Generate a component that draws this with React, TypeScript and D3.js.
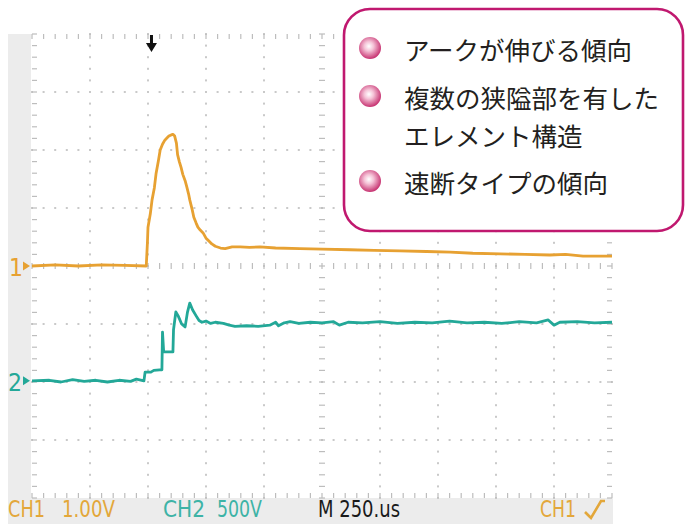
import React from "react";
import * as d3 from "d3";

// time in divisions (0..10), voltage in divisions (-4..4, 0 = centre)
const ch1Trace: [number, number][] = [
  [0, 0.0], [0.4, 0.02], [0.8, 0.0], [1.2, 0.02], [1.6, 0.01], [1.97, 0.0],
  [1.99, 0.4], [2.0, 0.67], [2.04, 0.9], [2.07, 1.14], [2.11, 1.35], [2.14, 1.6],
  [2.18, 1.82], [2.21, 2.0], [2.25, 2.1], [2.29, 2.17], [2.33, 2.21], [2.36, 2.24],
  [2.4, 2.26], [2.43, 2.27], [2.46, 2.24], [2.49, 2.12], [2.51, 1.92], [2.54, 1.8],
  [2.57, 1.7], [2.6, 1.58], [2.64, 1.47], [2.67, 1.36], [2.7, 1.24], [2.72, 1.14],
  [2.76, 0.98], [2.79, 0.84], [2.83, 0.74], [2.86, 0.67], [2.9, 0.62], [2.95, 0.57],
  [3.0, 0.48], [3.05, 0.43], [3.1, 0.38], [3.16, 0.34], [3.25, 0.31], [3.33, 0.3],
  [3.45, 0.33], [3.59, 0.33], [3.75, 0.32], [3.93, 0.33], [4.2, 0.31], [4.62, 0.3],
  [5.0, 0.29], [5.48, 0.28], [5.9, 0.27], [6.34, 0.26], [6.8, 0.25], [7.21, 0.24],
  [7.6, 0.22], [8.07, 0.21], [8.5, 0.2], [8.93, 0.19], [9.2, 0.2], [9.5, 0.17], [10, 0.17],
];

const ch2Trace: [number, number][] = [
  [0, -1.98], [0.3, -1.97], [0.5, -2.0], [0.7, -1.96], [0.9, -1.99], [1.1, -1.97],
  [1.3, -2.0], [1.5, -1.97], [1.7, -1.99], [1.8, -1.95], [1.93, -1.98],
  [1.95, -1.83], [2.05, -1.83], [2.1, -1.8], [2.2, -1.79], [2.24, -1.79],
  [2.25, -1.14], [2.27, -1.48], [2.43, -1.48], [2.44, -1.1], [2.48, -0.79],
  [2.52, -0.86], [2.58, -1.0], [2.64, -1.05], [2.68, -0.8], [2.72, -0.64],
  [2.77, -0.76], [2.83, -0.86], [2.88, -0.94], [2.93, -0.97], [3.0, -0.95],
  [3.08, -0.99], [3.16, -0.97], [3.3, -0.99], [3.4, -1.02], [3.5, -1.04],
  [3.7, -1.03], [3.9, -1.04], [4.1, -1.02], [4.2, -0.97], [4.25, -1.03],
  [4.35, -0.98], [4.45, -0.96], [4.6, -0.99], [4.8, -0.97], [5.0, -0.98],
  [5.2, -0.96], [5.3, -1.02], [5.45, -0.97], [5.7, -0.98], [6.0, -0.96],
  [6.3, -0.99], [6.6, -0.97], [6.9, -0.98], [7.2, -0.95], [7.5, -0.98],
  [7.8, -0.97], [8.1, -0.99], [8.4, -0.96], [8.7, -0.98], [8.9, -0.93],
  [9.0, -1.02], [9.1, -0.97], [9.4, -0.96], [9.7, -0.98], [10, -0.97],
];

const triggerTime = 2.06;
const ch1Level = 0;
const ch2Level = -1.98;

const statusItems = [
  { label: "CH1", value: "1.00V", color: "#E3A73A" },
  { label: "CH2", value: "500V", color: "#3DB3A6" },
];
const timebaseText = "M 250.us";
const triggerText = "CH1";

const legendLines = [
  { text: "アークが伸びる傾向", bullet: true },
  { text: "複数の狭隘部を有した", bullet: true },
  { text: "エレメント構造", bullet: false },
  { text: "速断タイプの傾向", bullet: true },
];

const ORANGE = "#E7A132";
const TEAL = "#23A898";

export default function App() {
  const W = 686, H = 524;
  const x = d3.scaleLinear().domain([0, 10]).range([32, 612]);
  const y = d3.scaleLinear().domain([-4, 4]).range([498, 34]);
  const line = d3.line<[number, number]>().x((d) => x(d[0])).y((d) => y(d[1]));

  const minorX = d3.range(0, 50.001, 1).map((i) => i / 5);
  const minorY = d3.range(0, 40.001, 1).map((i) => -4 + i / 5);
  const majorX = d3.range(1, 10);
  const majorY = d3.range(-3, 4);

  const dots: JSX.Element[] = [];
  majorX.forEach((mx) => {
    if (mx === 5) return;
    minorY.forEach((my, k) => {
      dots.push(<rect key={`vx${mx}-${k}`} x={x(mx) - 1} y={y(my) - 1} width={2} height={2} fill="#c9c9c9" />);
    });
  });
  majorY.forEach((my) => {
    if (my === 0) return;
    minorX.forEach((mx, k) => {
      dots.push(<rect key={`hy${my}-${k}`} x={x(mx) - 1} y={y(my) - 1} width={2} height={2} fill="#c9c9c9" />);
    });
  });

  const ticks: JSX.Element[] = [];
  minorX.forEach((mx, k) => {
    ticks.push(<line key={`tc${k}`} x1={x(mx)} x2={x(mx)} y1={y(0) - 3} y2={y(0) + 3} stroke="#bdbdbd" strokeWidth={1.2} />);
    ticks.push(<line key={`tt${k}`} x1={x(mx)} x2={x(mx)} y1={y(4)} y2={y(4) + 5} stroke="#bdbdbd" strokeWidth={1.2} />);
    ticks.push(<line key={`tb${k}`} x1={x(mx)} x2={x(mx)} y1={y(-4)} y2={y(-4) - 5} stroke="#bdbdbd" strokeWidth={1.2} />);
  });
  minorY.forEach((my, k) => {
    ticks.push(<line key={`vc${k}`} x1={x(5) - 3} x2={x(5) + 3} y1={y(my)} y2={y(my)} stroke="#bdbdbd" strokeWidth={1.2} />);
    ticks.push(<line key={`vl${k}`} x1={x(0)} x2={x(0) + 5} y1={y(my)} y2={y(my)} stroke="#bdbdbd" strokeWidth={1.2} />);
    ticks.push(<line key={`vr${k}`} x1={x(10)} x2={x(10) - 5} y1={y(my)} y2={y(my)} stroke="#bdbdbd" strokeWidth={1.2} />);
  });

  const tx = x(triggerTime);
  const legendFont = "'Noto Sans CJK JP', 'Noto Sans CJK SC', sans-serif";
  const monoFont = "'DejaVu Sans', 'Liberation Sans', sans-serif";

  const legendCentersY = [48, 96, 134, 181];
  const statusY = 517;
  const statusSize = 23;

  return (
    <svg width={W} height={H} style={{ position: "absolute", left: 0, top: 0 }} xmlns="http://www.w3.org/2000/svg">
      <defs>
        <radialGradient id="bulletGrad" cx="45%" cy="42%" r="60%">
          <stop offset="0%" stopColor="#ffffff" />
          <stop offset="35%" stopColor="#f5c3d7" />
          <stop offset="100%" stopColor="#c42a6b" />
        </radialGradient>
      </defs>
      <rect x={0} y={0} width={W} height={H} fill="#ffffff" />
      {/* scope frame */}
      <rect x={8} y={34} width={605} height={490} fill="#ececec" />
      <rect x={31} y={34} width={582} height={464} fill="#ffffff" />
      {dots}
      {ticks}

      {/* trigger arrow */}
      <path d={`M${tx - 1.5},35 L${tx + 1.5},35 L${tx + 1.5},43 L${tx + 5.5},43 L${tx},52 L${tx - 5.5},43 L${tx - 1.5},43 Z`} fill="#111" />

      {/* traces */}
      <path d={line(ch1Trace) ?? ""} fill="none" stroke={ORANGE} strokeWidth={2.8} strokeLinejoin="round" />
      <path d={line(ch2Trace) ?? ""} fill="none" stroke={TEAL} strokeWidth={2.8} strokeLinejoin="round" />

      {/* channel markers */}
      <text x={9} y={y(ch1Level) + 10} fontFamily={monoFont} fontSize={25} fill={ORANGE} textLength={14} lengthAdjust="spacingAndGlyphs">1</text>
      <path d={`M23,${y(ch1Level) - 4.5} L30,${y(ch1Level)} L23,${y(ch1Level) + 4.5} Z`} fill={ORANGE} />
      <text x={8} y={y(ch2Level) + 10} fontFamily={monoFont} fontSize={25} fill={TEAL} textLength={14} lengthAdjust="spacingAndGlyphs">2</text>
      <path d={`M23,${y(ch2Level) - 4.5} L30,${y(ch2Level)} L23,${y(ch2Level) + 4.5} Z`} fill={TEAL} />

      {/* status line */}
      <text x={8} y={statusY} fontFamily={monoFont} fontSize={statusSize} fill={statusItems[0].color} textLength={37} lengthAdjust="spacingAndGlyphs">{statusItems[0].label}</text>
      <text x={62} y={statusY} fontFamily={monoFont} fontSize={statusSize} fill={statusItems[0].color} textLength={53} lengthAdjust="spacingAndGlyphs">{statusItems[0].value}</text>
      <text x={163} y={statusY} fontFamily={monoFont} fontSize={statusSize} fill={statusItems[1].color} textLength={42} lengthAdjust="spacingAndGlyphs">{statusItems[1].label}</text>
      <text x={217} y={statusY} fontFamily={monoFont} fontSize={statusSize} fill={statusItems[1].color} textLength={45} lengthAdjust="spacingAndGlyphs">{statusItems[1].value}</text>
      <text x={318} y={statusY} fontFamily={monoFont} fontSize={statusSize} fill="#1a1a1a" textLength={82} lengthAdjust="spacingAndGlyphs">{timebaseText}</text>
      <text x={540} y={statusY} fontFamily={monoFont} fontSize={statusSize} fill={statusItems[0].color} textLength={36} lengthAdjust="spacingAndGlyphs">{triggerText}</text>
      <path d="M585,512 L589,516 L591,518 L601,501 L605,501" fill="none" stroke={statusItems[0].color} strokeWidth={2.6} />

      {/* legend box */}
      <rect x={344} y={9} width={339} height={222} rx={26} ry={26} fill="#ffffff" stroke="#C0186F" strokeWidth={2.6} />
      {legendLines.map((l, i) => (
        <g key={i}>
          {l.bullet && <circle cx={370} cy={legendCentersY[i]} r={11} fill="url(#bulletGrad)" />}
          <text x={404} y={legendCentersY[i]} dominantBaseline="central" fontFamily={legendFont} fontSize={25.5} fill="#231f20">{l.text}</text>
        </g>
      ))}
    </svg>
  );
}
